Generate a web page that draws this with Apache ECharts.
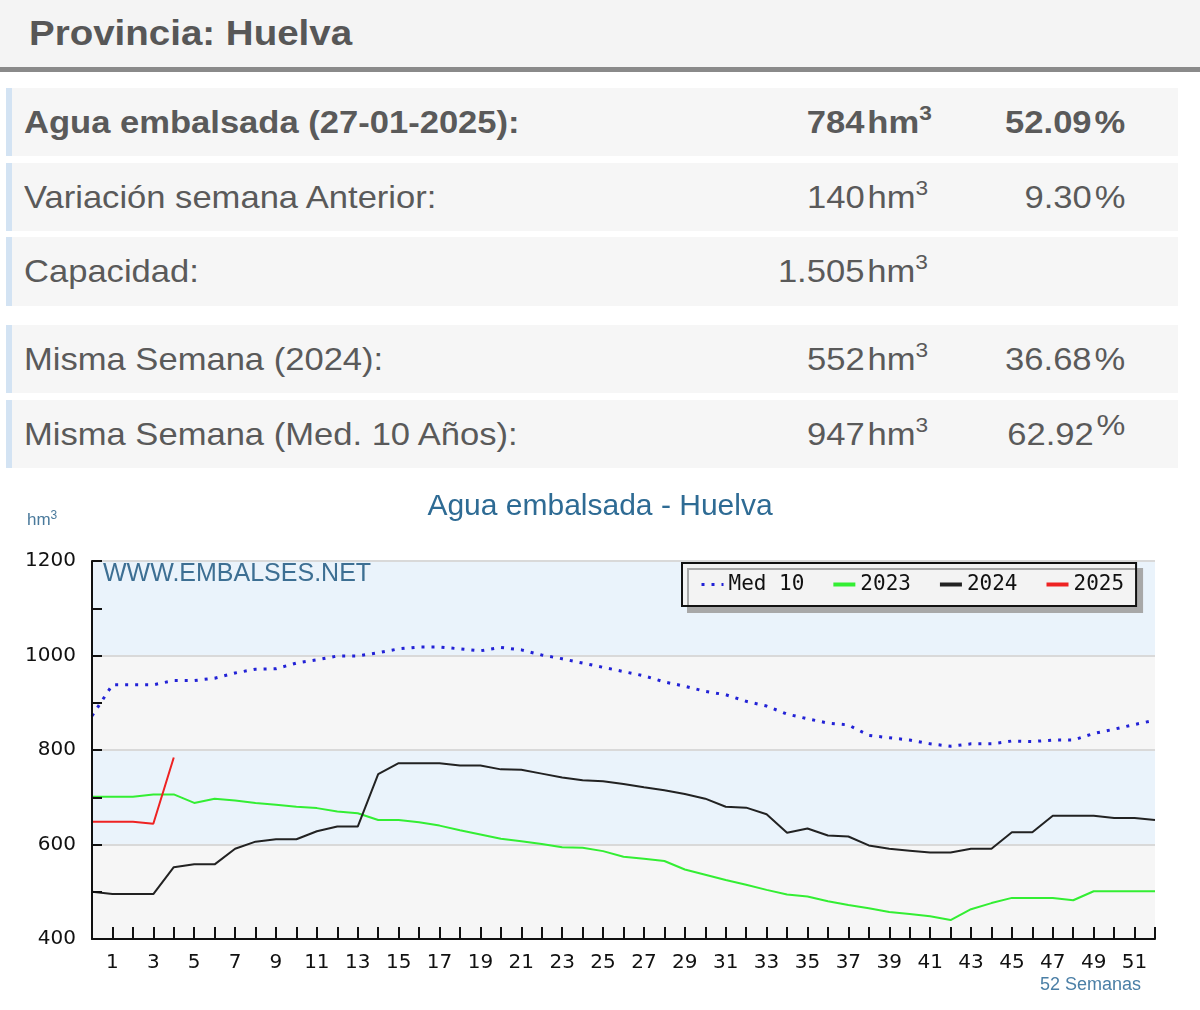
<!DOCTYPE html>
<html>
<head>
<meta charset="utf-8">
<script src="https://cdn.jsdelivr.net/npm/echarts@6/dist/echarts.min.js"></script>
<style>
  body { margin: 0; width: 1200px; height: 1010px; background: #fff; font-family: "Liberation Sans", Arial, sans-serif; color: #5a5a5a; position: relative; overflow: hidden; }
  #hdr { position: absolute; left: 0; top: 0; width: 1200px; height: 67px; background: #f4f4f4; border-bottom: 5px solid #8a8a8a; }
  #hdr span { position: absolute; left: 29px; top: 0; line-height: 66px; font-size: 35px; font-weight: bold; color: #575757; transform: scaleX(1.1); transform-origin: left center; }
  .row { position: absolute; left: 6px; width: 1166px; height: 68px; background: #f6f6f6; border-left: 6px solid #d3e3f3; }
  .row > span { position: absolute; top: 0; line-height: 68px; font-size: 32px; white-space: nowrap; }
  .row .lab { left: 12px; transform: scaleX(1.08); transform-origin: left center; }
  .row .val { right: 250px; transform: scaleX(1.08); transform-origin: right center; }
  .row .pct { right: 53px; transform: scaleX(1.08); transform-origin: right center; }
  .row.b > span { font-weight: bold; }
  .sup { font-size: 21px; position: relative; top: -13px; vertical-align: baseline; }
  #chart { position: absolute; left: 0; top: 470px; width: 1200px; height: 540px; }
</style>
</head>
<body>
<div id="hdr"><span>Provincia: Huelva</span></div>
<div class="row b" style="top:88px"><span class="lab">Agua embalsada (27-01-2025):</span><span class="val" style="right:246px">784&#8202;hm<span class="sup">3</span></span><span class="pct">52.09&#8202;%</span></div>
<div class="row" style="top:163px"><span class="lab">Variación semana Anterior:</span><span class="val">140&#8202;hm<span class="sup">3</span></span><span class="pct">9.30&#8202;%</span></div>
<div class="row" style="top:237px;height:69px"><span class="lab">Capacidad:</span><span class="val">1.505&#8202;hm<span class="sup">3</span></span></div>
<div class="row" style="top:325px"><span class="lab">Misma Semana (2024):</span><span class="val">552&#8202;hm<span class="sup">3</span></span><span class="pct">36.68&#8202;%</span></div>
<div class="row" style="top:400px"><span class="lab">Misma Semana (Med. 10 Años):</span><span class="val">947&#8202;hm<span class="sup">3</span></span><span class="pct">62.92&#8202;<span class="sup" style="font-size:30px;top:-10px">%</span></span></div>
<div id="chart"></div>
<script>
// weeks of the hydrological year shown on the x axis
var weeks = [0, 1, 2, 3, 4, 5, 6, 7, 8, 9, 10, 11, 12, 13, 14, 15, 16, 17, 18, 19, 20, 21, 22, 23, 24, 25, 26,
  27, 28, 29, 30, 31, 32, 33, 34, 35, 36, 37, 38, 39, 40, 41, 42, 43, 44, 45, 46, 47, 48, 49, 50, 51, 52];

// hm3 stored per week
var med10 = [872, 938, 938, 938, 947, 947, 952, 963, 971, 972, 984, 991, 999, 999, 1006, 1014, 1018, 1018, 1014,
  1010, 1017, 1012, 1001, 993, 984, 975, 966, 957, 944, 935, 924, 917, 903, 893, 876, 866, 857, 853, 831, 826,
  821, 813, 808, 813, 813, 819, 818, 821, 821, 835, 844, 854, 863];
var y2023 = [701, 701, 701, 706, 706, 688, 697, 693, 688, 684, 680, 677, 670, 666, 652, 652, 647, 640, 630, 621,
  612, 607, 601, 594, 593, 586, 574, 570, 565, 547, 536, 525, 515, 504, 494, 490, 480, 472, 465, 457, 453, 448,
  440, 463, 476, 487, 487, 487, 482, 501, 501, 501, 501];
var y2024 = [500, 495, 495, 495, 552, 558, 558, 591, 606, 611, 611, 628, 638, 638, 749, 772, 772, 772, 767, 767,
  759, 758, 750, 742, 736, 734, 728, 721, 715, 707, 697, 680, 678, 664, 625, 634, 619, 617, 598, 591, 587, 583,
  583, 591, 591, 626, 626, 661, 661, 661, 656, 656, 652];
var y2025 = [648, 648, 648, 644, 784];

var seriesNames = ['Med 10', '2023', '2024', '2025'];
var yLabels = [400, 600, 800, 1000, 1200];

function pairs(vals) {
  return vals.map(function (v, i) { return [weeks[i], v]; });
}

var myChart = echarts.init(document.getElementById('chart'));

var option = {
  animation: false,
  title: {
    text: 'Agua embalsada - Huelva',
    left: 'center',
    top: 17,
    textStyle: { fontFamily: 'Liberation Sans', fontSize: 30, fontWeight: 'normal', color: '#2e6b94' }
  },
  graphic: [
    {
      type: 'text', left: 27, top: 40,
      style: {
        text: '{a|hm}{b|3}',
        rich: {
          a: { fontFamily: 'Liberation Sans', fontSize: 17, fill: '#4a7a9c' },
          b: { fontFamily: 'Liberation Sans', fontSize: 12, fill: '#4a7a9c', verticalAlign: 'top', padding: [0, 0, 9, 0] }
        }
      }
    },
    {
      type: 'text', left: 103, top: 92, z: 10,
      style: { text: 'WWW.EMBALSES.NET', fontFamily: 'Liberation Sans', fontSize: 25, fill: '#3d6f93' }
    },
    {
      type: 'text', left: 1040, top: 506,
      style: { text: '52 Semanas', fontFamily: 'Liberation Sans', fontSize: 18, fill: '#4b7fa6' }
    }
  ],
  legend: {
    left: 682,
    top: 93,
    padding: [11, 12, 11, 18],
    itemWidth: 22,
    itemHeight: 10,
    itemGap: 27,
    backgroundColor: '#f3f3f3',
    borderColor: '#111',
    borderWidth: 2,
    shadowColor: '#a8a8a8',
    shadowOffsetX: 6,
    shadowOffsetY: 6,
    shadowBlur: 0,
    textStyle: { fontFamily: 'DejaVu Sans Mono', fontSize: 21, color: '#111' },
    data: [
      { name: seriesNames[0], itemStyle: { opacity: 0 }, lineStyle: { width: 3, type: [3, 7] } },
      { name: seriesNames[1], itemStyle: { opacity: 0 }, lineStyle: { width: 4 } },
      { name: seriesNames[2], itemStyle: { opacity: 0 }, lineStyle: { width: 4 } },
      { name: seriesNames[3], itemStyle: { opacity: 0 }, lineStyle: { width: 4 } }
    ]
  },
  grid: { left: 92, right: 45, top: 91, bottom: 71 },
  xAxis: {
    type: 'value',
    min: 0,
    max: 52,
    interval: 1,
    axisLine: { lineStyle: { color: '#111', width: 2 } },
    axisTick: { inside: true, length: 12, lineStyle: { color: '#111', width: 2 } },
    axisLabel: {
      margin: 14,
      fontFamily: 'DejaVu Sans',
      fontSize: 20,
      color: '#111',
      formatter: function (v) { return v % 2 === 1 ? String(v) : ''; }
    },
    splitLine: { show: false }
  },
  yAxis: [
    {
      type: 'value',
      min: 400,
      max: 1200,
      interval: 100,
      axisLine: { show: true, lineStyle: { color: '#111', width: 2 } },
      axisTick: { show: true, inside: true, length: 10, lineStyle: { color: '#111', width: 2 } },
      axisLabel: {
        margin: 16,
        fontFamily: 'DejaVu Sans',
        fontSize: 20,
        color: '#111',
        formatter: function (v) { return yLabels.indexOf(v) >= 0 ? String(v) : ''; }
      },
      splitLine: { show: false },
      z: 5
    },
    {
      type: 'value',
      min: 400,
      max: 1200,
      interval: 200,
      position: 'left',
      axisLine: { show: false },
      axisTick: { show: false },
      axisLabel: { show: false },
      splitLine: { show: true, lineStyle: { color: '#d9d9d9', width: 2 } },
      splitArea: { show: true, areaStyle: { color: ['#f6f6f6', '#eaf3fb'] } }
    }
  ],
  series: [
    {
      name: seriesNames[0], type: 'line', symbol: 'none', data: pairs(med10),
      itemStyle: { color: '#2222d6' },
      lineStyle: { color: '#2222d6', width: 3, type: [3, 7] }
    },
    {
      name: seriesNames[1], type: 'line', symbol: 'none', data: pairs(y2023),
      itemStyle: { color: '#33ee33' },
      lineStyle: { color: '#33ee33', width: 2 }
    },
    {
      name: seriesNames[2], type: 'line', symbol: 'none', data: pairs(y2024),
      itemStyle: { color: '#222222' },
      lineStyle: { color: '#222222', width: 2 }
    },
    {
      name: seriesNames[3], type: 'line', symbol: 'none', data: pairs(y2025),
      itemStyle: { color: '#ee2222' },
      lineStyle: { color: '#ee2222', width: 2 }
    }
  ]
};

myChart.setOption(option);
</script>
</body>
</html>
